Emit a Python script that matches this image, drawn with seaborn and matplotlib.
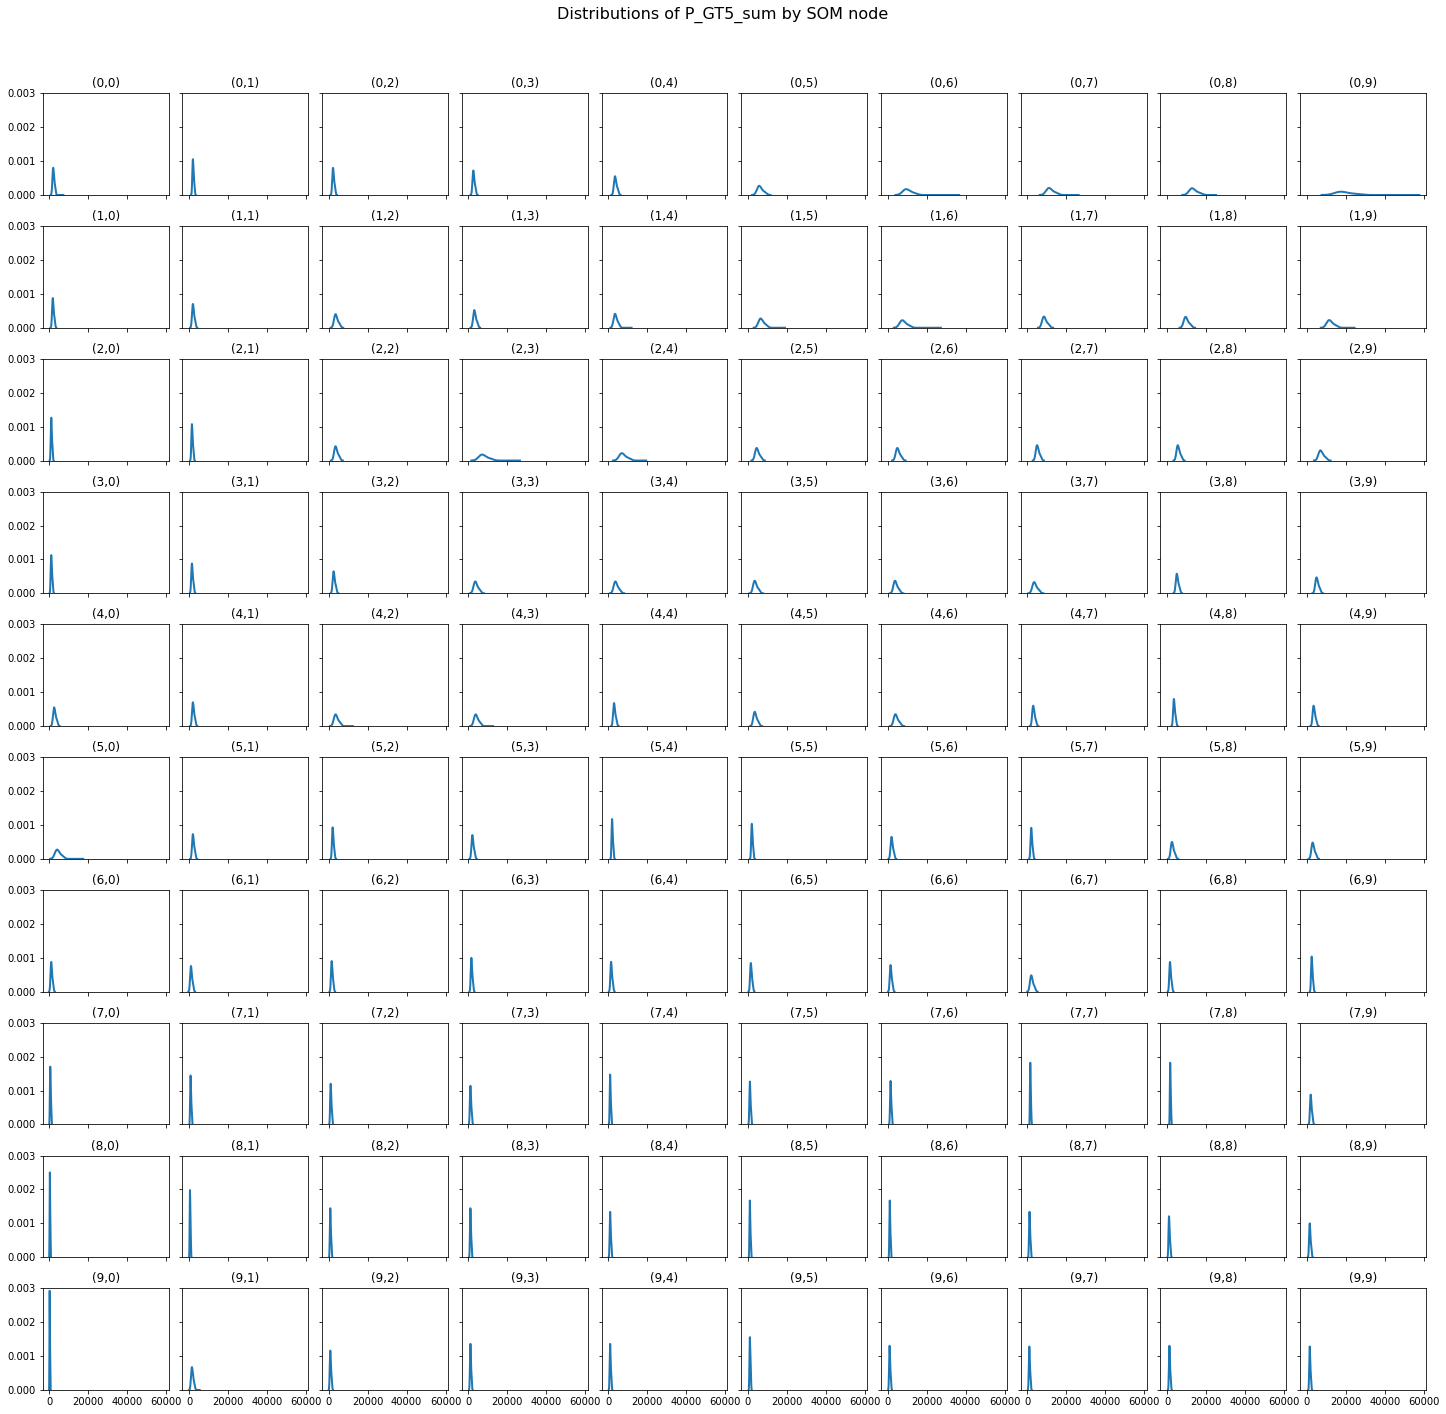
import matplotlib
matplotlib.use("Agg")
import matplotlib.pyplot as plt
import seaborn as sns
import numpy as np

# P_GT5_sum values per SOM node, one list per grid row (node (r, c) -> row_r[c])
row_0 = [
    [1740, 1870, 2010, 2140, 2450, 2950],
    [1790, 1900, 2000, 2110, 2350, 2750],
    [1930, 2070, 2210, 2350, 2670, 3190],
    [2200, 2350, 2510, 2660, 3010, 3600],
    [3110, 3310, 3510, 3720, 4170, 4940],
    [4990, 5400, 5820, 6230, 7170, 8720],
    [8290, 8910, 9530, 10150, 11550, 13890],
    [10060, 10590, 11130, 11660, 12860, 14860],
    [11710, 12270, 12830, 13390, 14650, 16750],
    [15320, 16440, 17560, 18680, 21200, 25400],
]
row_1 = [
    [1550, 1680, 1800, 1930, 2220, 2710],
    [1690, 1850, 2010, 2170, 2530, 3130],
    [2950, 3230, 3510, 3790, 4420, 5470],
    [2580, 2790, 3010, 3220, 3710, 4520],
    [2980, 3250, 3510, 3780, 4380, 5380],
    [5720, 6120, 6520, 6920, 7820, 9320],
    [6550, 7040, 7520, 8010, 9110, 10930],
    [7840, 8180, 8520, 8860, 9620, 10900],
    [8820, 9170, 9520, 9870, 10650, 11970],
    [10550, 11040, 11520, 12010, 13110, 14930],
]
row_2 = [
    [830, 920, 1010, 1090, 1300, 1630],
    [1290, 1400, 1500, 1610, 1840, 2230],
    [2980, 3250, 3510, 3780, 4380, 5380],
    [5790, 6410, 7030, 7650, 9050, 11390],
    [6010, 6520, 7030, 7530, 8680, 10590],
    [3910, 4210, 4510, 4810, 5500, 6630],
    [4410, 4710, 5010, 5310, 6000, 7130],
    [4520, 4770, 5010, 5260, 5820, 6760],
    [5020, 5270, 5510, 5760, 6320, 7260],
    [6270, 6640, 7020, 7390, 8230, 9630],
]
row_3 = [
    [810, 910, 1010, 1110, 1330, 1710],
    [1250, 1380, 1500, 1630, 1920, 2400],
    [2160, 2330, 2510, 2680, 3070, 3710],
    [2880, 3200, 3520, 3840, 4560, 5760],
    [3080, 3400, 3720, 4040, 4760, 5960],
    [2910, 3210, 3510, 3810, 4500, 5630],
    [3210, 3510, 3810, 4110, 4800, 5930],
    [2840, 3180, 3520, 3860, 4620, 5900],
    [4620, 4810, 5010, 5200, 5640, 6360],
    [4530, 4770, 5010, 5250, 5780, 6680],
]
row_4 = [
    [2110, 2310, 2510, 2720, 3170, 3940],
    [1690, 1850, 2010, 2170, 2530, 3130],
    [2880, 3200, 3520, 3840, 4560, 5760],
    [3080, 3400, 3720, 4040, 4760, 5960],
    [2680, 2850, 3010, 3180, 3550, 4170],
    [2980, 3250, 3510, 3780, 4380, 5380],
    [3380, 3700, 4020, 4340, 5060, 6260],
    [2640, 2830, 3010, 3200, 3620, 4320],
    [3230, 3370, 3510, 3650, 3970, 4490],
    [3140, 3330, 3510, 3700, 4120, 4820],
]
row_5 = [
    [3220, 3620, 4020, 4420, 5320, 6820],
    [1700, 1850, 2010, 2160, 2510, 3080],
    [1770, 1890, 2010, 2130, 2400, 2860],
    [1690, 1850, 2010, 2170, 2530, 3130],
    [1820, 1910, 2010, 2100, 2320, 2680],
    [1790, 1900, 2000, 2110, 2360, 2770],
    [1660, 1830, 2010, 2180, 2570, 3210],
    [1760, 1880, 2010, 2130, 2400, 2860],
    [2060, 2290, 2510, 2740, 3240, 4080],
    [2550, 2780, 3010, 3250, 3770, 4650],
]
row_6 = [
    [750, 880, 1000, 1130, 1420, 1910],
    [710, 860, 1010, 1150, 1490, 2050],
    [1260, 1380, 1510, 1630, 1910, 2380],
    [1280, 1390, 1510, 1620, 1870, 2290],
    [1250, 1380, 1500, 1630, 1920, 2400],
    [1240, 1370, 1510, 1640, 1940, 2430],
    [1220, 1360, 1510, 1650, 1970, 2510],
    [1550, 1780, 2010, 2250, 2770, 3650],
    [1250, 1380, 1500, 1630, 1920, 2410],
    [2290, 2400, 2500, 2610, 2860, 3270],
]
row_7 = [
    [370, 440, 500, 570, 720, 960],
    [650, 730, 800, 880, 1060, 1350],
    [820, 910, 1010, 1100, 1310, 1660],
    [810, 910, 1010, 1100, 1330, 1700],
    [850, 930, 1000, 1080, 1250, 1540],
    [830, 920, 1010, 1090, 1300, 1630],
    [1330, 1420, 1500, 1590, 1790, 2120],
    [1380, 1440, 1500, 1560, 1700, 1940],
    [1480, 1540, 1600, 1660, 1800, 2040],
    [1750, 1880, 2000, 2130, 2420, 2900],
]
row_8 = [
    [210, 260, 300, 350, 450, 610],
    [390, 450, 500, 560, 690, 900],
    [650, 730, 800, 880, 1060, 1350],
    [850, 930, 1000, 1080, 1260, 1550],
    [840, 920, 1000, 1090, 1280, 1590],
    [870, 940, 1000, 1070, 1220, 1480],
    [970, 1040, 1100, 1170, 1320, 1580],
    [940, 1020, 1100, 1190, 1380, 1690],
    [820, 910, 1010, 1100, 1310, 1650],
    [1280, 1390, 1510, 1620, 1870, 2290],
]
row_9 = [
    [130, 160, 200, 240, 330, 470],
    [1180, 1340, 1510, 1670, 2040, 2660],
    [610, 710, 810, 900, 1120, 1480],
    [840, 920, 1000, 1090, 1270, 1580],
    [840, 920, 1000, 1090, 1270, 1580],
    [860, 930, 1000, 1080, 1240, 1500],
    [830, 920, 1000, 1090, 1280, 1610],
    [830, 920, 1000, 1090, 1290, 1620],
    [1030, 1120, 1200, 1290, 1480, 1810],
    [1330, 1420, 1500, 1590, 1790, 2120],
]
grid_rows = [row_0, row_1, row_2, row_3, row_4, row_5, row_6, row_7, row_8, row_9]

# largest (rare) value of the nodes with a long right tail
tail_max = {
    (0, 0): 7200, (0, 6): 36700, (0, 7): 26300, (0, 8): 25100, (0, 9): 57800,
    (1, 4): 12000, (1, 5): 19000, (1, 6): 27300, (1, 9): 24500,
    (2, 3): 26400, (2, 4): 19500,
    (4, 2): 12400, (4, 3): 12600,
    (5, 0): 17400,
    (9, 1): 5500,
}
tail_weight = 0.005

x_ticks = [0, 20000, 40000, 60000]
y_ticks = [0.000, 0.001, 0.002, 0.003]

fig, axes = plt.subplots(10, 10, figsize=(1446 / 72, 1414 / 72), dpi=72,
                         sharex=True, sharey=True)

for r, row in enumerate(grid_rows):
    for c, values in enumerate(row):
        ax = axes[r, c]
        if (r, c) in tail_max:
            # the outlier only stretches the curve, the bulk keeps its own bandwidth
            top = tail_max[(r, c)]
            bw = np.std(values, ddof=1) * len(values) ** -0.2
            lo = min(values) - 3 * bw
            sns.kdeplot(x=values + [top], weights=[1] * len(values) + [tail_weight],
                        clip=(lo, top), ax=ax, color="tab:blue", linewidth=2)
        else:
            sns.kdeplot(x=values, ax=ax, color="tab:blue", linewidth=2)
        ax.set_title(f"({r},{c})")
        ax.set_xlabel("")
        ax.set_ylabel("")

axes[0, 0].set_xlim(-3400, 61200)
axes[0, 0].set_ylim(0, 0.003)
axes[0, 0].set_xticks(x_ticks)
axes[0, 0].set_yticks(y_ticks)

fig.suptitle("Distributions of P_GT5_sum by SOM node", fontsize=16, y=0.995)
plt.subplots_adjust(left=0.0295, right=0.9862, top=0.934, bottom=0.017,
                    wspace=0.11, hspace=0.306)
plt.savefig("out.png", dpi=72)
